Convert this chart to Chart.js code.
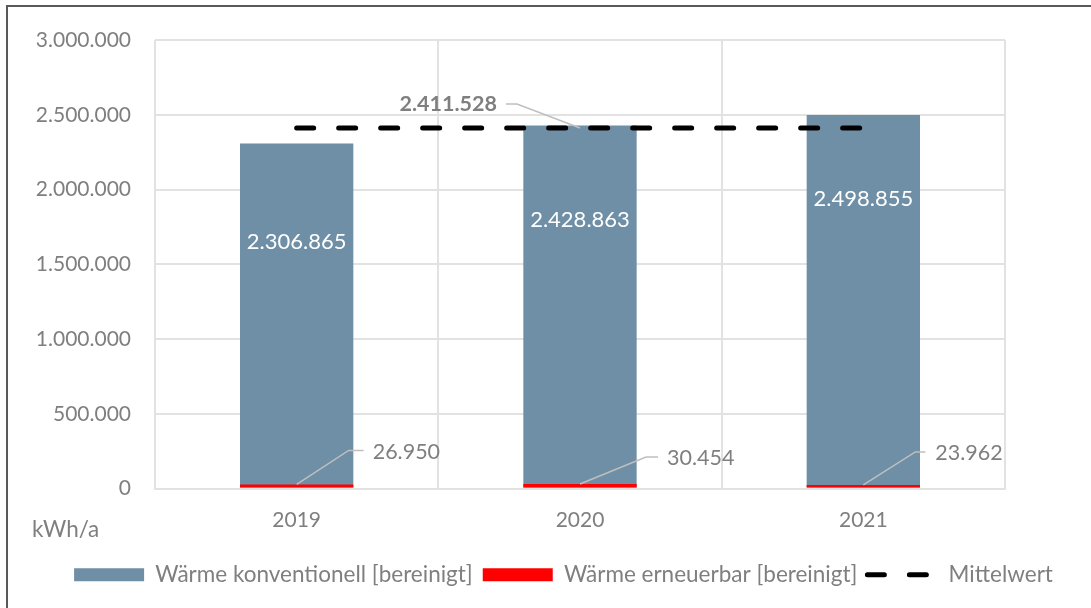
<!DOCTYPE html>
<html>
<head>
<meta charset="utf-8">
<script src="https://cdn.jsdelivr.net/npm/chart.js@4"></script>
<style>
    body { margin: 0; background: #fff; }
    #wrap { position: relative; width: 1091px; height: 608px; }
</style>
</head>
<body>
<div id="wrap"><canvas id="chart" width="1091" height="608"></canvas></div>
<script>
const years = ['2019', '2020', '2021'];
const konventionell = [2306865, 2428863, 2498855];
const erneuerbar = [26950, 30454, 23962];
const mittelwert = 2411528;
const yTicks = [0, 500000, 1000000, 1500000, 2000000, 2500000, 3000000];

const grey = '#7f7f7f';
const gridColor = '#e2e2e2';
const font = 'Lato';

function fmt(v) {
    return String(Math.round(v)).replace(/\B(?=(\d{3})+(?!\d))/g, '.');
}

// where the labels sit, like in the original sheet
const whiteLabelFrac = [0.714, 0.739, 0.774];
const redLeader = [
    { elbow: [52, -34], end: [67, -34], text: [76, -32] },
    { elbow: [66, -27], end: [78, -27], text: [87, -26] },
    { elbow: [52, -33], end: [62, -33], text: [72, -32] },
];

const meanDash = [17, 25];

const labelPlugin = {
    id: 'labels',
    beforeDraw(chart) {
        const ctx = chart.ctx;
        ctx.save();
        ctx.strokeStyle = '#595959';
        ctx.lineWidth = 2;
        ctx.strokeRect(7, 6, 2000, 2000);
        ctx.restore();
    },
    afterDatasetsDraw(chart) {
        const ctx = chart.ctx;
        const y = chart.scales.y;
        const konvMeta = chart.getDatasetMeta(0);
        const ernMeta = chart.getDatasetMeta(1);
        ctx.save();
        ctx.textBaseline = 'middle';

        ctx.font = '22px ' + font;
        konvMeta.data.forEach((bar, i) => {
            ctx.fillStyle = '#ffffff';
            ctx.textAlign = 'center';
            ctx.fillText(fmt(konventionell[i]), bar.x, y.getPixelForValue(konventionell[i] * whiteLabelFrac[i]));
        });

        ctx.font = '21.5px ' + font;
        ernMeta.data.forEach((bar, i) => {
            const l = redLeader[i];
            ctx.strokeStyle = '#bfbfbf';
            ctx.lineWidth = 1.5;
            ctx.beginPath();
            ctx.moveTo(bar.x, bar.y);
            ctx.lineTo(bar.x + l.elbow[0], bar.y + l.elbow[1]);
            ctx.lineTo(bar.x + l.end[0], bar.y + l.end[1]);
            ctx.stroke();
            ctx.fillStyle = grey;
            ctx.textAlign = 'left';
            ctx.fillText(fmt(erneuerbar[i]), bar.x + l.text[0], bar.y + l.text[1]);
        });

        // Mittelwert label
        const lineMeta = chart.getDatasetMeta(2);
        const p = lineMeta.data[1];
        ctx.strokeStyle = '#bfbfbf';
        ctx.lineWidth = 1.5;
        ctx.beginPath();
        ctx.moveTo(p.x, p.y);
        ctx.lineTo(p.x - 63, p.y - 24);
        ctx.lineTo(p.x - 74, p.y - 24);
        ctx.stroke();
        ctx.font = 'bold 21.5px ' + font;
        ctx.fillStyle = grey;
        ctx.textAlign = 'right';
        ctx.fillText(fmt(mittelwert), p.x - 83, p.y - 24);

        // unit
        ctx.font = '22.5px ' + font;
        ctx.textAlign = 'left';
        ctx.fillText('kWh/a', 32, 530);
        ctx.restore();
    }
};

new Chart(document.getElementById('chart'), {
    type: 'bar',
    data: {
        labels: years,
        datasets: [
            {
                label: 'Wärme konventionell [bereinigt]',
                data: konventionell,
                backgroundColor: '#6f8fa6',
                grouped: false,
                barPercentage: 0.4,
                categoryPercentage: 1,
                pointStyle: 'rect',
                order: 3,
            },
            {
                label: 'Wärme erneuerbar [bereinigt]',
                data: erneuerbar,
                backgroundColor: '#ff0000',
                grouped: false,
                barPercentage: 0.4,
                categoryPercentage: 1,
                pointStyle: 'rect',
                order: 2,
            },
            {
                type: 'line',
                label: 'Mittelwert',
                data: years.map(() => mittelwert),
                borderColor: '#000000',
                backgroundColor: '#000000',
                borderWidth: 5,
                borderDash: meanDash,
                borderCapStyle: 'round',
                pointRadius: 0,
                pointStyle: 'line',
                order: 1,
            },
        ],
    },
    options: {
        responsive: false,
        animation: false,
        layout: { padding: { left: 36, right: 0, top: 40, bottom: 12 } },
        plugins: {
            tooltip: { enabled: false },
            legend: {
                position: 'bottom',
                labels: {
                    usePointStyle: true,
                    pointStyleWidth: 70,
                    boxHeight: 13,
                    padding: 10,
                    color: grey,
                    font: { family: font, size: 22.5 },
                    sort: (a, b) => a.datasetIndex - b.datasetIndex,
                    generateLabels(chart) {
                        const items = Chart.defaults.plugins.legend.labels.generateLabels(chart);
                        items.forEach(item => {
                            if (item.datasetIndex === 2) {
                                item.lineDash = meanDash;
                                item.lineWidth = 5;
                                item.lineCap = 'round';
                                item.strokeStyle = '#000000';
                            }
                        });
                        return items;
                    },
                },
            },
        },
        scales: {
            x: {
                grid: { offset: true, color: gridColor, lineWidth: 2, drawTicks: false },
                border: { color: gridColor, width: 2 },
                ticks: { color: grey, font: { family: font, size: 21 }, padding: 19 },
                afterFit(scale) { scale.height = 65; },
            },
            y: {
                min: 0,
                max: 3000000,
                afterBuildTicks(scale) { scale.ticks = yTicks.map(v => ({ value: v })); },
                grid: { color: gridColor, lineWidth: 2, drawTicks: false },
                border: { display: false },
                ticks: {
                    color: grey,
                    font: { family: font, size: 21 },
                    padding: 24,
                    callback: v => fmt(v),
                },
                afterFit(scale) { scale.width = 119; },
            },
            // empty space on the right, keeps the legend wide
            spacer: {
                position: 'right',
                grid: { display: false },
                border: { display: false },
                ticks: { display: false },
                afterFit(scale) { scale.width = 86; },
            },
        },
    },
    plugins: [labelPlugin],
});
</script>
</body>
</html>
